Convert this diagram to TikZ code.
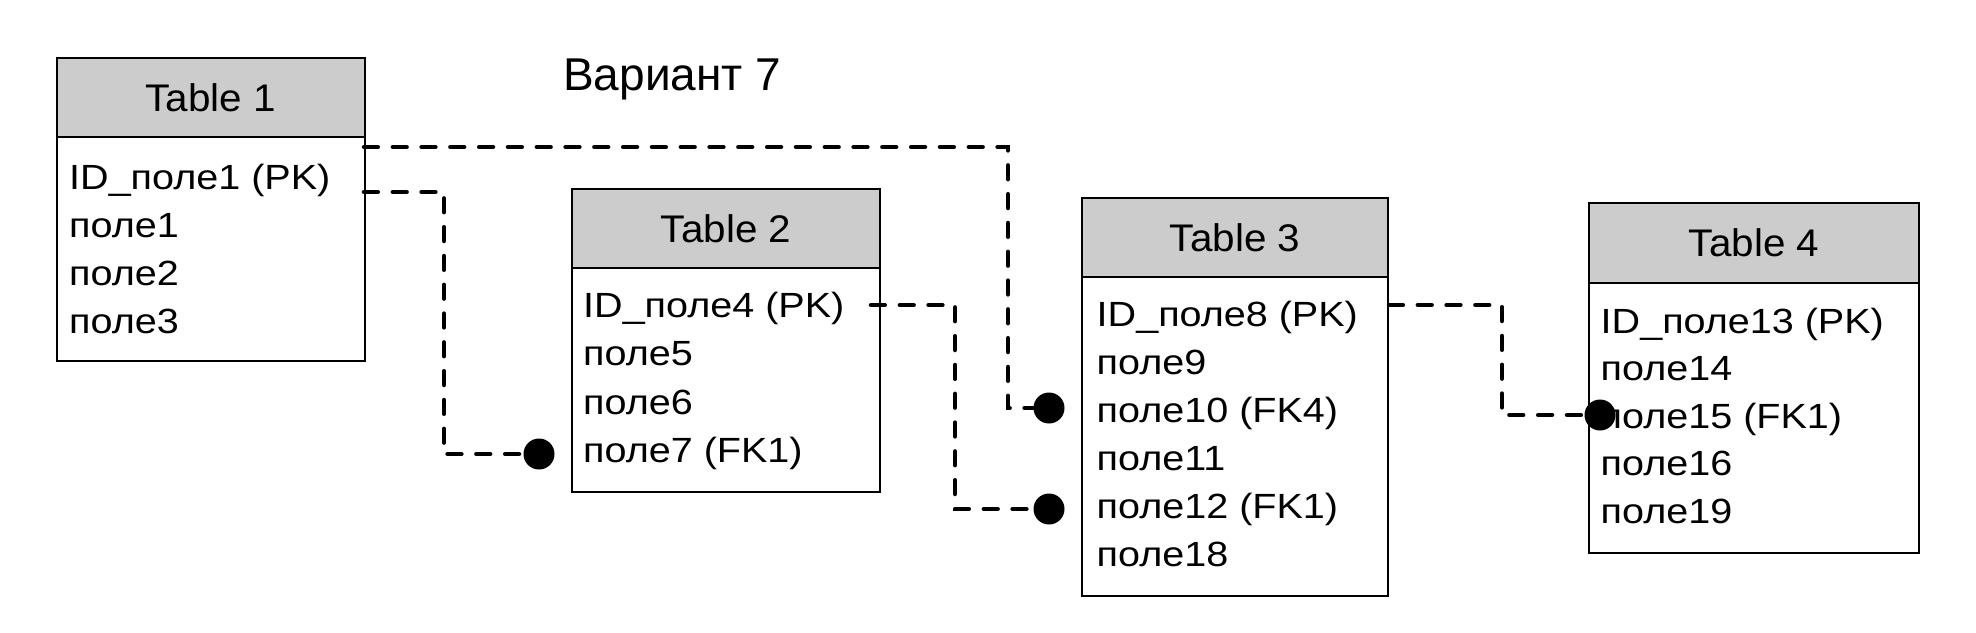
\documentclass[tikz,border=0pt]{standalone}
\usepackage{fontspec}
\setmainfont{Liberation Sans}
\newfontfamily\headfont[FakeStretch=1.05]{Liberation Sans}
\newfontfamily\fieldfont[FakeStretch=1.13]{Liberation Sans}
\definecolor{headgray}{HTML}{CCCCCC}

\tikzset{
  tabhead/.style={draw=black, line width=2pt, fill=headgray, anchor=north west, inner sep=0pt, font=\headfont\fontsize{38.5}{46}\selectfont},
  tabbody/.style={draw=black, line width=2pt, fill=white, anchor=north west, inner sep=0pt},
  field/.style={anchor=base west, inner sep=0pt, font=\fieldfont\fontsize{35}{42}\selectfont},
  link/.style={line width=4.5pt, dash pattern=on 13.8pt off 15pt, line cap=round},
  fkdot/.style={circle, fill=black, inner sep=0pt, minimum size=31pt}
}

\begin{document}
\begin{tikzpicture}[x=1pt, y=-1pt]
\useasboundingbox (0,0) rectangle (1976,632);

\node (title) [anchor=base west, inner sep=0pt, font=\fontsize{46}{55}\selectfont] at (563,90) {Вариант 7};

\node (t1h) [tabhead, minimum width=307.5pt, minimum height=79.5pt] at (56,56.5) {Table 1};
\node (t1b) [tabbody, minimum width=307.5pt, minimum height=224pt] at (56,136) {};
\node (t1r1) [field] at (69,189) {ID\_поле1 (PK)};
\node (t1r2) [field] at (69,237) {поле1};
\node (t1r3) [field] at (69,285) {поле2};
\node (t1r4) [field] at (69,333) {поле3};

\node (t2h) [tabhead, minimum width=308pt, minimum height=79.5pt] at (571,187.5) {Table 2};
\node (t2b) [tabbody, minimum width=308pt, minimum height=224pt] at (571,267) {};
\node (t2r1) [field] at (583,317) {ID\_поле4 (PK)};
\node (t2r2) [field] at (583,365.5) {поле5};
\node (t2r3) [field] at (583,414) {поле6};
\node (t2r4) [field] at (583,462.5) {поле7 (FK1)};

\node (t3h) [tabhead, minimum width=306pt, minimum height=79pt] at (1081,197) {Table 3};
\node (t3b) [tabbody, minimum width=306pt, minimum height=319pt] at (1081,276) {};
\node (t3r1) [field] at (1096.5,326) {ID\_поле8 (PK)};
\node (t3r2) [field] at (1096.5,374) {поле9};
\node (t3r3) [field] at (1096.5,422) {поле10 (FK4)};
\node (t3r4) [field] at (1096.5,470) {поле11};
\node (t3r5) [field] at (1096.5,518) {поле12 (FK1)};
\node (t3r6) [field] at (1096.5,566) {поле18};

\node (t4h) [tabhead, minimum width=330pt, minimum height=80pt] at (1588,202) {Table 4};
\node (t4b) [tabbody, minimum width=330pt, minimum height=270pt] at (1588,282) {};
\node (t4r1) [field] at (1600.5,333) {ID\_поле13 (PK)};
\node (t4r2) [field] at (1600.5,380.5) {поле14};
\node (t4r3) [field] at (1600.5,428) {поле15 (FK1)};
\node (t4r4) [field] at (1600.5,475.5) {поле16};
\node (t4r5) [field] at (1600.5,523) {поле19};

\node (d1) [fkdot] at (1049,408) {};
\node (d2) [fkdot] at (539,454) {};
\node (d3) [fkdot] at (1049,509) {};
\node (d4) [fkdot] at (1600,415) {};

\coordinate (s1) at (364,147);
\coordinate (s2) at (364,192);
\coordinate (s3) at (871,305);
\coordinate (s4) at (1389,305);

\draw [link] (s1) -- (1008,147) |- (d1);
\draw [link] (s2) -- (444,192) |- (d2);
\draw [link] (s3) -- (955,305) |- (d3);
\draw [link] (s4) -- (1502,305) |- (d4);

\end{tikzpicture}
\end{document}
